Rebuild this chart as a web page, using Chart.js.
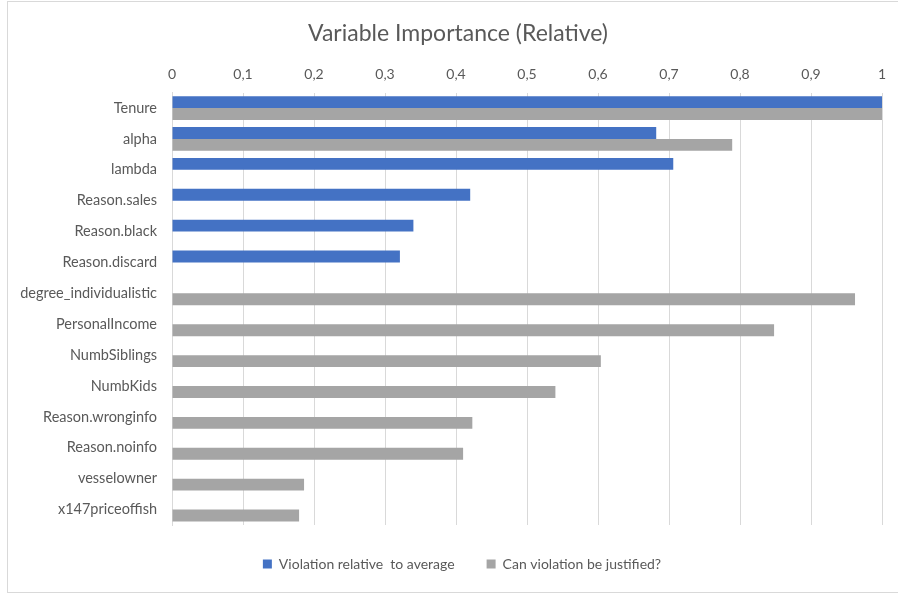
<!DOCTYPE html>
<html>
<head>
<meta charset="utf-8">
<script src="https://cdn.jsdelivr.net/npm/chart.js@4/dist/chart.umd.min.js"></script>
<style>
  html, body { margin: 0; padding: 0; background: #ffffff; }
  #wrap { position: relative; width: 898px; height: 593px; }
  #frame { position: absolute; left: 7px; top: 1px; width: 900px; height: 592px;
           border: 1px solid #d9d9d9; box-sizing: border-box; pointer-events: none; }
  canvas { display: block; }
</style>
</head>
<body>
<div id="wrap">
  <canvas id="chart" width="898" height="593"></canvas>
  <div id="frame"></div>
</div>
<script>
// Variables, top to bottom
const categories = [
  'Tenure', 'alpha', 'lambda', 'Reason.sales', 'Reason.black', 'Reason.discard',
  'degree_individualistic', 'PersonalIncome', 'NumbSiblings', 'NumbKids',
  'Reason.wronginfo', 'Reason.noinfo', 'vesselowner', 'x147priceoffish'
];

// Relative importance per model
const violationRelative = [1.000, 0.682, 0.706, 0.420, 0.340, 0.321,
  null, null, null, null, null, null, null, null];
const violationJustified = [1.000, 0.789, null, null, null, null,
  0.962, 0.848, 0.604, 0.540, 0.423, 0.410, 0.186, 0.179];

const seriesNames = ['Violation relative  to average', 'Can violation be justified?'];

// Axis labels use a decimal comma
const xTickLabels = ['0', '0,1', '0,2', '0,3', '0,4', '0,5', '0,6', '0,7', '0,8', '0,9', '1'];

const textColor = '#595959';
const gridColor = '#d9d9d9';
const fontFamily = 'Lato, "Open Sans", sans-serif';

// Taller legend box, and title/legend nudged right of the canvas centre
const legendSpace = {
  id: 'legendSpace',
  beforeInit(chart) {
    const originalFit = chart.legend.fit;
    chart.legend.fit = function fit() {
      originalFit.bind(chart.legend)();
      this.height = 68;
    };
  },
  afterLayout(chart) {
    if (chart.titleBlock) { chart.titleBlock.left += 17; chart.titleBlock.right += 17; }
    if (chart.legend) { chart.legend.left += 21; chart.legend.right += 21; }
  }
};

new Chart(document.getElementById('chart'), {
  type: 'bar',
  data: {
    labels: categories,
    datasets: [
      { label: seriesNames[0], data: violationRelative, backgroundColor: '#4472C4', borderWidth: 0 },
      { label: seriesNames[1], data: violationJustified, backgroundColor: '#A5A5A5', borderWidth: 0 }
    ]
  },
  options: {
    indexAxis: 'y',
    responsive: false,
    animation: false,
    layout: { padding: { left: 0, right: 16, top: 0, bottom: 0 } },
    datasets: { bar: { categoryPercentage: 0.77, barPercentage: 1.0 } },
    scales: {
      x: {
        position: 'top',
        min: 0,
        max: 1,
        ticks: {
          stepSize: 0.1,
          color: textColor,
          font: { family: fontFamily, size: 14 },
          padding: 10,
          callback: (v, i) => xTickLabels[i]
        },
        grid: { color: gridColor, lineWidth: 1, drawTicks: false },
        border: { display: false },
        afterFit(scale) { scale.height = 45; }
      },
      y: {
        ticks: {
          color: textColor,
          font: { family: fontFamily, size: 14.5 },
          padding: 15
        },
        grid: { display: false, drawTicks: false },
        border: { display: true, color: gridColor, width: 1 },
        afterFit(scale) { scale.width = 172; }
      }
    },
    plugins: {
      title: {
        display: true,
        text: 'Variable Importance (Relative)',
        color: textColor,
        font: { family: fontFamily, size: 23, weight: 'normal' },
        padding: { top: 20, bottom: 0 }
      },
      legend: {
        position: 'bottom',
        labels: {
          color: textColor,
          font: { family: fontFamily, size: 14 },
          boxWidth: 9,
          boxHeight: 9,
          padding: 32
        }
      },
      tooltip: { enabled: false }
    }
  },
  plugins: [legendSpace]
});
</script>
</body>
</html>
